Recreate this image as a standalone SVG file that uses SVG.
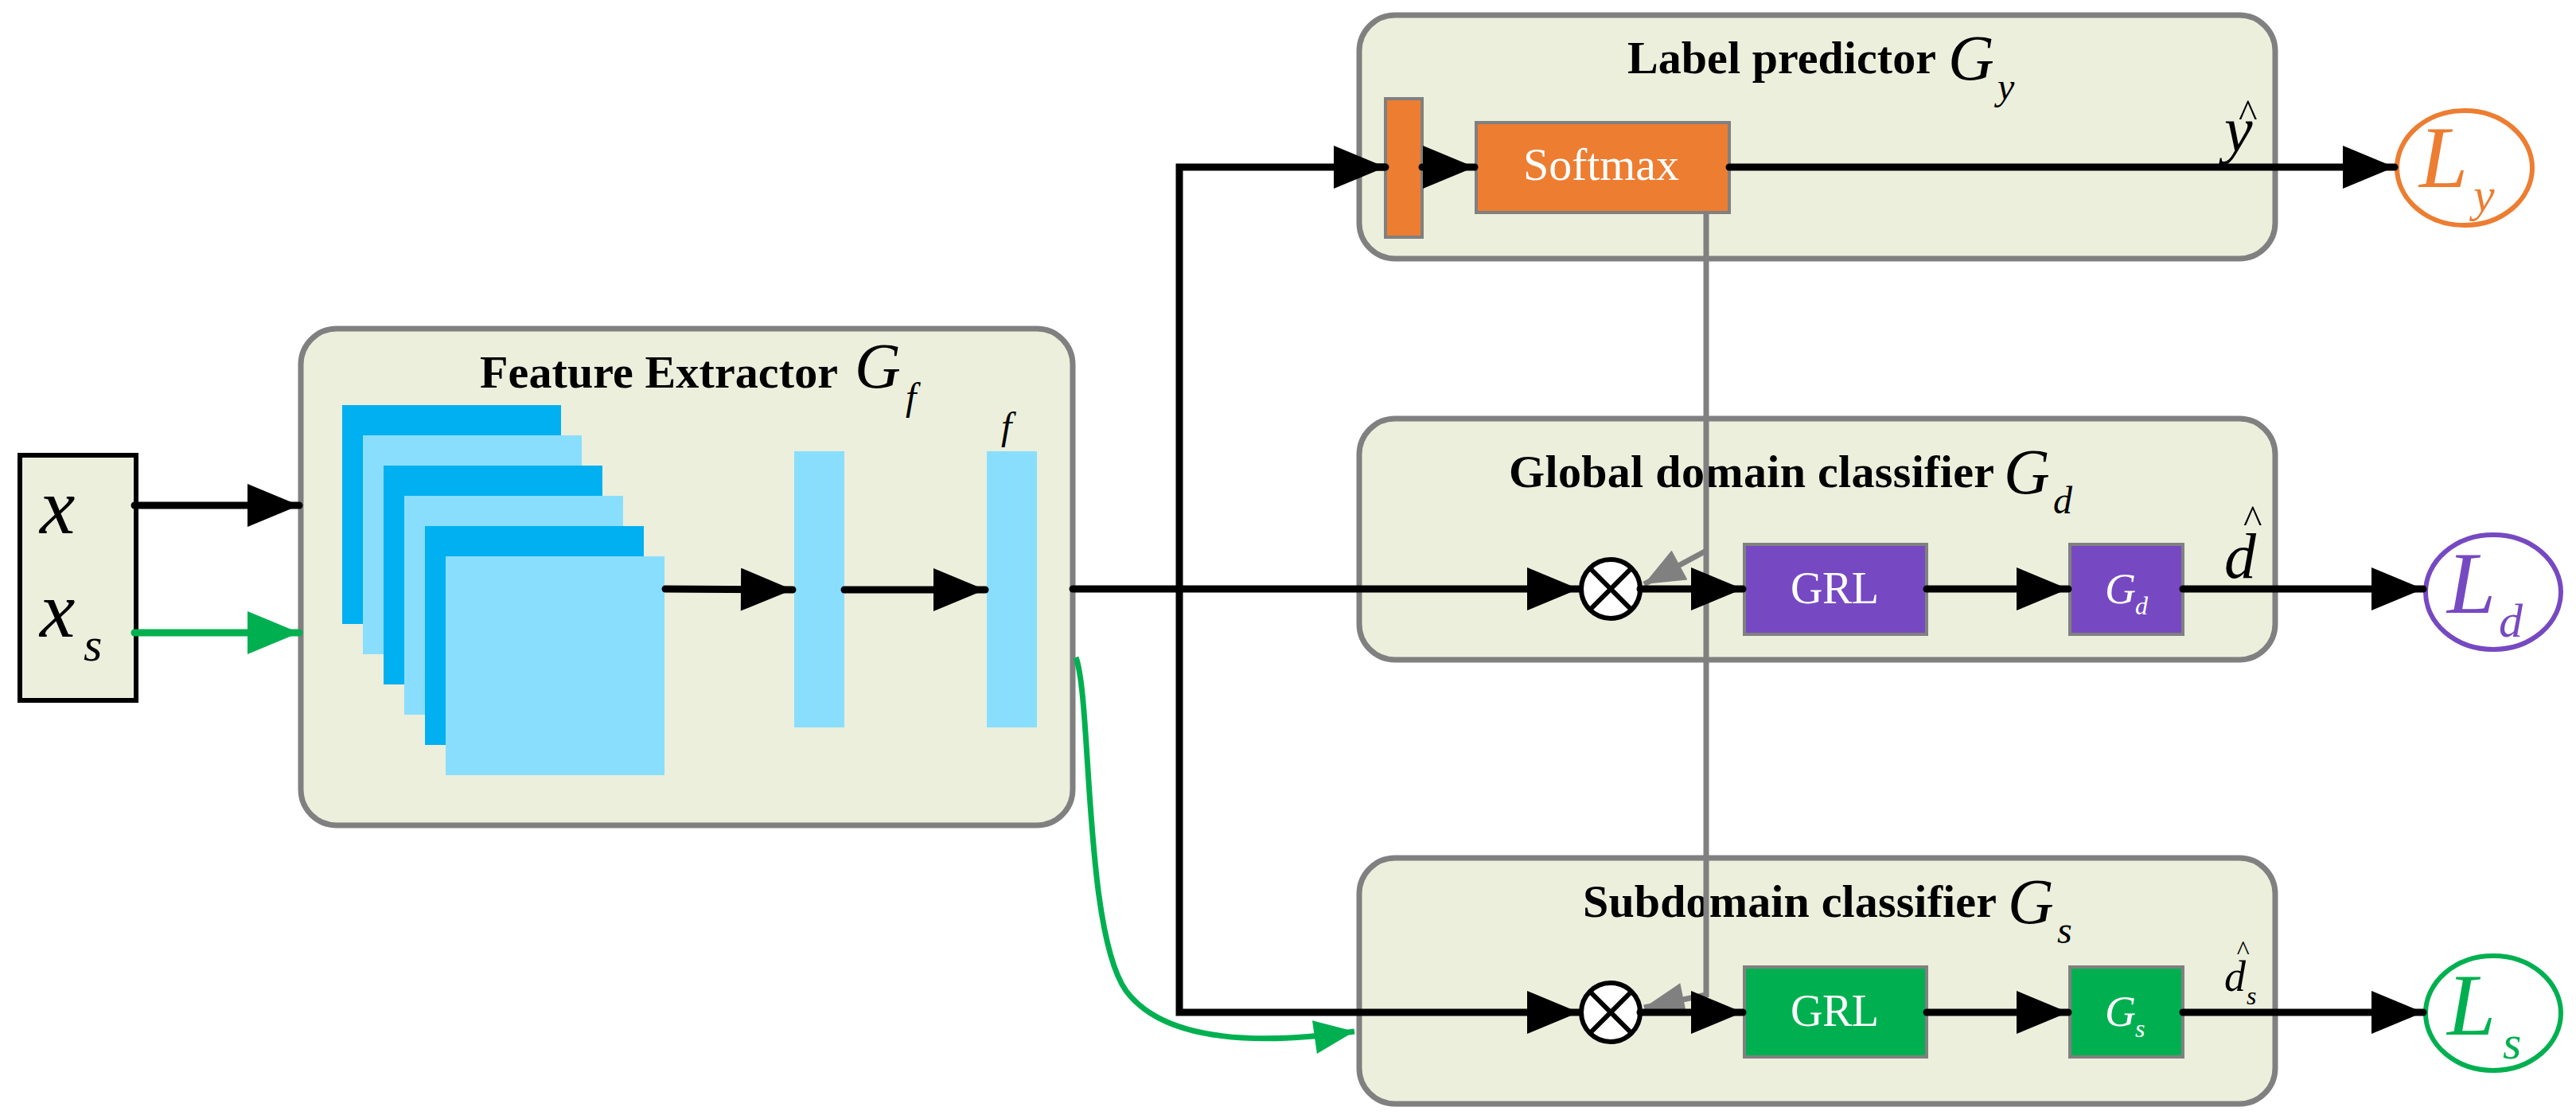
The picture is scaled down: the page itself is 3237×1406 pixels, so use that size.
<svg xmlns="http://www.w3.org/2000/svg" width="3237" height="1406" viewBox="0 0 3237 1406">
<style>
.box{fill:#EBEFDC;stroke:#808080;stroke-width:7}
.t{font-family:"Liberation Serif",serif;font-weight:bold;font-size:58px;fill:#000}
.m{font-family:"Liberation Serif",serif;font-style:italic;fill:#000}
.w{font-family:"Liberation Serif",serif;fill:#fff}
.ln{stroke:#000;stroke-width:9;fill:none;stroke-linecap:round}
.g{stroke:#808080;stroke-width:7;fill:none}
.dk{fill:#00B0F0}.lt{fill:#8ADEFD}
</style>
<defs>
<marker id="a" markerWidth="8" markerHeight="6" refX="6.5" refY="2.7" orient="auto" markerUnits="strokeWidth" viewBox="0 0 7 5.4"><path d="M0,0L6.5,2.7L0,5.4z" fill="#000"/></marker>
<marker id="ag" markerWidth="8" markerHeight="6" refX="6.5" refY="2.7" orient="auto" markerUnits="strokeWidth" viewBox="0 0 7 5.4"><path d="M0,0L6.5,2.7L0,5.4z" fill="#00B050"/></marker>
<marker id="agr" markerWidth="8" markerHeight="6" refX="6.5" refY="2.7" orient="auto" markerUnits="strokeWidth" viewBox="0 0 7 5.4"><path d="M0,0L6.5,2.7L0,5.4z" fill="#808080"/></marker>
</defs>
<g id="input">
<rect x="25" y="572" width="146" height="308" fill="#EBEFDC" stroke="#000" stroke-width="6"/>
<text class="m" x="50" y="670" font-size="100">x</text>
<text class="m" x="50" y="800" font-size="100">x</text>
<text class="m" x="105" y="830" font-size="60">s</text>
</g>
<g id="feature">
<rect class="box" x="378" y="413" width="970" height="624" rx="45"/>
<text class="t" x="603" y="487" textLength="450">Feature Extractor</text>
<text class="m" x="1074" y="487" font-size="80">G</text>
<text class="m" x="1138" y="515" font-size="48">f</text>
<rect class="dk" x="430" y="509" width="275" height="275"/>
<rect class="lt" x="456" y="547" width="275" height="275"/>
<rect class="dk" x="482" y="585" width="275" height="275"/>
<rect class="lt" x="508" y="623" width="275" height="275"/>
<rect class="dk" x="534" y="661" width="275" height="275"/>
<rect class="lt" x="560" y="699" width="275" height="275"/>
<rect class="lt" x="998" y="567" width="63" height="347"/>
<rect class="lt" x="1240" y="567" width="63" height="347"/>
<text class="m" x="1258" y="552" font-size="48">f</text>
</g>
<g id="label">
<rect class="box" x="1708" y="19" width="1151" height="306" rx="45"/>
<text class="t" x="2045" y="92" textLength="388">Label predictor</text>
<text class="m" x="2448" y="100" font-size="80">G</text>
<text class="m" x="2510" y="125" font-size="48">y</text>
<text class="m" x="2795" y="190" font-size="80">y</text>
<text class="m" x="2812" y="160" font-size="50">^</text>
<rect x="1741" y="124" width="46" height="174" fill="#ED7D31" stroke="#808080" stroke-width="4"/>
<rect x="1855" y="154" width="318" height="113" fill="#ED7D31" stroke="#808080" stroke-width="4"/>
<text class="w" x="1914" y="226" font-size="58" textLength="196">Softmax</text>
</g>
<g id="Ly"><ellipse cx="3097" cy="211" rx="85" ry="72" fill="#fff" stroke="#ED7D31" stroke-width="6"/>
<text class="m" x="3040" y="235" font-size="110" style="fill:#ED7D31">L</text>
<text class="m" x="3108" y="265" font-size="60" style="fill:#ED7D31">y</text></g>
<g id="global">
<rect class="box" x="1708" y="526" width="1151" height="303" rx="45"/>
<text class="t" x="1896" y="612" textLength="610">Global domain classifier</text>
<text class="m" x="2518" y="620" font-size="80">G</text>
<text class="m" x="2580" y="645" font-size="48">d</text>
<rect x="2192" y="684" width="229" height="113" fill="#7649C2" stroke="#808080" stroke-width="4"/>
<text class="w" x="2250" y="758" font-size="56" textLength="111">GRL</text>
<rect x="2601" y="684" width="142" height="113" fill="#7649C2" stroke="#808080" stroke-width="4"/>
<text class="w" x="2645" y="758" font-size="54" font-style="italic">G</text>
<text class="w" x="2683" y="772" font-size="32" font-style="italic">d</text>
<text class="m" x="2795" y="726" font-size="80">d</text>
<text class="m" x="2818" y="670" font-size="50">^</text>
</g>
<g id="Ld"><ellipse cx="3133" cy="744" rx="85" ry="72" fill="#fff" stroke="#7649C2" stroke-width="6"/>
<text class="m" x="3075" y="770" font-size="110" style="fill:#7649C2">L</text>
<text class="m" x="3140" y="800" font-size="60" style="fill:#7649C2">d</text></g>
<g id="sub">
<rect class="box" x="1708" y="1078" width="1151" height="309" rx="45"/>
<text class="t" x="1989" y="1152" textLength="520">Subdomain classifier</text>
<text class="m" x="2523" y="1160" font-size="80">G</text>
<text class="m" x="2585" y="1185" font-size="48">s</text>
<rect x="2192" y="1215" width="229" height="113" fill="#00B050" stroke="#808080" stroke-width="4"/>
<text class="w" x="2250" y="1289" font-size="56" textLength="111">GRL</text>
<rect x="2601" y="1215" width="142" height="113" fill="#00B050" stroke="#808080" stroke-width="4"/>
<text class="w" x="2645" y="1289" font-size="54" font-style="italic">G</text>
<text class="w" x="2683" y="1303" font-size="32" font-style="italic">s</text>
<text class="m" x="2795" y="1245" font-size="54">d</text>
<text class="m" x="2823" y="1262" font-size="32">s</text>
<text class="m" x="2810" y="1205" font-size="34">^</text>
</g>
<g id="Ls"><ellipse cx="3133" cy="1273" rx="85" ry="72" fill="#fff" stroke="#00B050" stroke-width="6"/>
<text class="m" x="3075" y="1300" font-size="110" style="fill:#00B050">L</text>
<text class="m" x="3145" y="1330" font-size="60" style="fill:#00B050">s</text></g>
<g id="connectors">
<line class="ln" x1="169" y1="635" x2="376" y2="635" marker-end="url(#a)"/>
<line x1="169" y1="795" x2="376" y2="795" stroke="#00B050" stroke-width="9" stroke-linecap="round" marker-end="url(#ag)"/>
<line class="ln" x1="836" y1="740" x2="996" y2="741" marker-end="url(#a)"/>
<line class="ln" x1="1061" y1="741" x2="1238" y2="741" marker-end="url(#a)"/>
<line class="ln" x1="1348" y1="740" x2="1984" y2="740" marker-end="url(#a)"/>
<polyline class="ln" points="1741,210 1482,210 1482,1272 1984,1272" stroke-linecap="butt" marker-end="url(#a)"/>
<line x1="1700" y1="210" x2="1741" y2="210" stroke="#000" stroke-width="9" marker-end="url(#a)"/>
<line class="ln" x1="1787" y1="210" x2="1853" y2="210" marker-end="url(#a)"/>
<line class="ln" x1="2173" y1="210" x2="3009" y2="210" marker-end="url(#a)"/>
<path d="M1352,826 C1372,880 1362,1170 1415,1245 C1465,1312 1590,1312 1702,1296" stroke="#00B050" stroke-width="7" fill="none" marker-end="url(#ag)"/>
<polyline class="g" points="2144,267 2144,1250 2066,1266" marker-end="url(#agr)"/>
<line class="g" x1="2144" y1="692" x2="2066" y2="734" marker-end="url(#agr)"/>
<g stroke="#000" stroke-width="6" fill="#fff"><circle cx="2024" cy="740" r="37"/><circle cx="2024" cy="1272" r="37"/></g>
<g stroke="#000" stroke-width="6"><path d="M1998,714L2050,766M2050,714L1998,766M1998,1246L2050,1298M2050,1246L1998,1298"/></g>
<line class="ln" x1="2061" y1="740" x2="2190" y2="740" marker-end="url(#a)"/>
<line class="ln" x1="2421" y1="740" x2="2599" y2="740" marker-end="url(#a)"/>
<line class="ln" x1="2743" y1="740" x2="3045" y2="740" marker-end="url(#a)"/>
<line class="ln" x1="2061" y1="1272" x2="2190" y2="1272" marker-end="url(#a)"/>
<line class="ln" x1="2421" y1="1272" x2="2599" y2="1272" marker-end="url(#a)"/>
<line class="ln" x1="2743" y1="1272" x2="3045" y2="1272" marker-end="url(#a)"/>
</g>
</svg>
